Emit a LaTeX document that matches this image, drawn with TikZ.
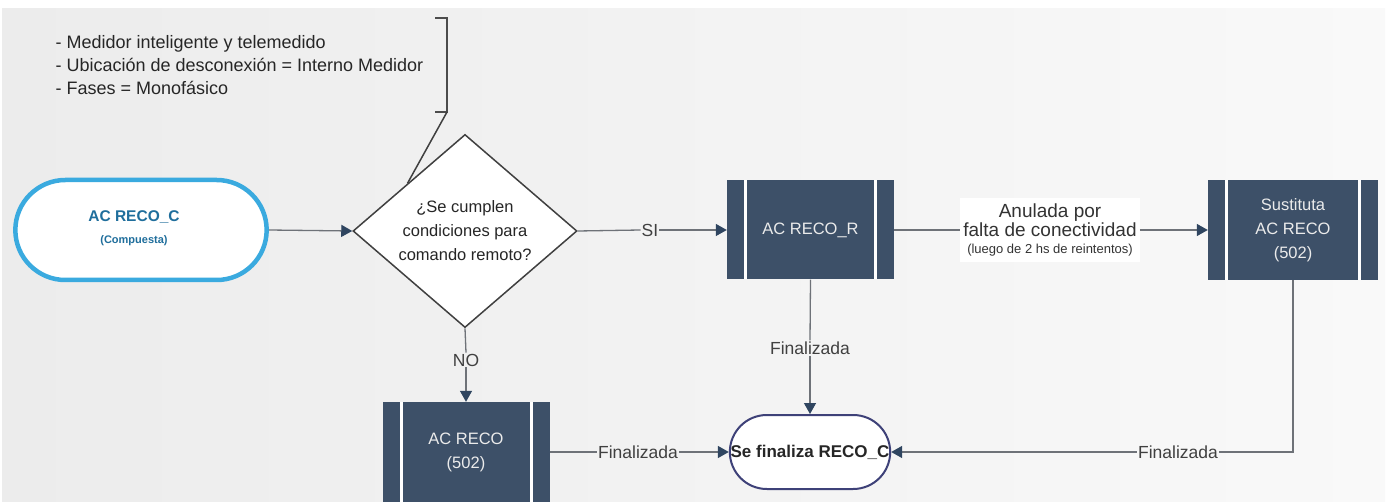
\documentclass[tikz,border=0pt]{standalone}
\usepackage{fontspec}
\setmainfont{Liberation Sans}
\usetikzlibrary{shapes.geometric,shapes.misc,arrows.meta,calc}
\definecolor{boxc}{HTML}{3D5068}
\definecolor{arrc}{HTML}{2F4560}
\definecolor{linec}{HTML}{6E7278}
\definecolor{bluec}{HTML}{3AAADF}
\definecolor{bluet}{HTML}{1F6E9C}
\definecolor{finc}{HTML}{3E4178}
\definecolor{bgl}{HTML}{ECECEC}
\definecolor{bgr}{HTML}{F9F9F9}
\begin{document}
\begin{tikzpicture}[x=1pt,y=-1pt,
  proc/.style={rectangle, fill=boxc, minimum width=167pt, minimum height=99pt, text=white!92!black,
    font=\fontsize{16.5}{24}\selectfont, align=center, inner sep=0pt,
    path picture={
      \draw[white,line width=3pt] ([xshift=18.5pt]path picture bounding box.north west) -- ([xshift=18.5pt]path picture bounding box.south west);
      \draw[white,line width=3pt] ([xshift=-18.5pt]path picture bounding box.north east) -- ([xshift=-18.5pt]path picture bounding box.south east);}},
  conn/.style={draw=linec, line width=1.3pt},
  arr/.style={conn, -{Triangle[length=11pt,width=12pt,color=arrc]}},
  lbl/.style={font=\fontsize{17.5}{20}\selectfont, text=black!75, inner sep=1pt},
]
\useasboundingbox (0,0) rectangle (1389,502);
\fill[white] (0,0) rectangle (1389,502);
\shade[left color=bgl,right color=bgr] (2,9) rectangle (1385,502);

\node[anchor=west, align=left, font=\fontsize{18}{23}\selectfont, text=black!85] (notes) at (52,65)
  {- Medidor inteligente y telemedido\\- Ubicación de desconexión = Interno Medidor\\- Fases = Monofásico};

\coordinate (bt) at (447,18);
\coordinate (bb) at (447,112);
\draw[line width=1.8pt, draw=black!70] ([xshift=-12pt]bt) -- (bt) -- (bb) -- ([xshift=-12pt]bb);

\node[rounded rectangle, draw=bluec, line width=4.5pt, fill=white, minimum width=258pt, minimum height=100pt] (start) at (141,230) {};
\node[align=center, text=bluet, font=\fontsize{15.5}{18}\selectfont\bfseries] (starttxt) at (134,228)
  {AC RECO\_C\\[4pt]{\fontsize{11}{13}\selectfont (Compuesta)}};

\node[diamond, draw=black!75, line width=1.5pt, fill=white, minimum width=224pt, minimum height=182pt,
  inner sep=0pt, align=center, font=\fontsize{16.5}{24}\selectfont, text=black!85] (dec) at (465,231)
  {¿Se cumplen\\condiciones para\\comando remoto?};

\draw[line width=1.5pt, draw=black!75] (bb) -- ($(dec.north)!0.51!(dec.west)$);

\node[proc] (accr) at (810.5,230) {AC RECO\_R};
\node[proc, minimum height=100pt] (acr) at (466,452) {AC RECO\\(502)};
\node[proc, minimum width=170pt, minimum height=100pt] (sust) at (1293,230) {Sustituta\\AC RECO\\(502)};

\node[rounded rectangle, draw=finc, line width=2pt, fill=white, minimum width=167pt, minimum height=74pt,
  font=\fontsize{17}{20}\selectfont\bfseries, text=black!85] (fin) at (810,452) {Se finaliza RECO\_C};

\node[lbl] (si) at (650,230) {SI};
\node[lbl] (no) at (466,360) {NO};
\node[lbl] (f1) at (810,348) {Finalizada};
\node[lbl] (f2) at (638,452) {Finalizada};
\node[lbl] (f3) at (1178,452) {Finalizada};
\node[fill=white, align=center, inner xsep=3pt, inner ysep=5pt, text=black!80] (anul) at (1050,230)
  {{\fontsize{19}{21}\selectfont Anulada por}\\[1pt]{\fontsize{19}{21}\selectfont falta de conectividad}\\[5pt]{\fontsize{13}{17}\selectfont (luego de 2 hs de reintentos)}};

\draw[arr] (start.east) -- (dec.west);
\draw[conn] (dec.east) -- (si.west);
\draw[arr] (si.east) -- (accr.west);
\draw[conn] (accr.east) -- (anul.west);
\draw[arr] (anul.east) -- (sust.west);
\draw[conn] (dec.south) -- (no.north);
\draw[arr] (no.south) -- (acr.north);
\draw[conn] (accr.south) -- (f1.north);
\draw[arr] (f1.south) -- (fin.north);
\draw[conn] (acr.east) -- (f2.west);
\draw[arr] (f2.east) -- (fin.west);
\draw[conn] (sust.south) |- (f3.east);
\draw[arr] (f3.west) -- (fin.east);
\end{tikzpicture}
\end{document}
